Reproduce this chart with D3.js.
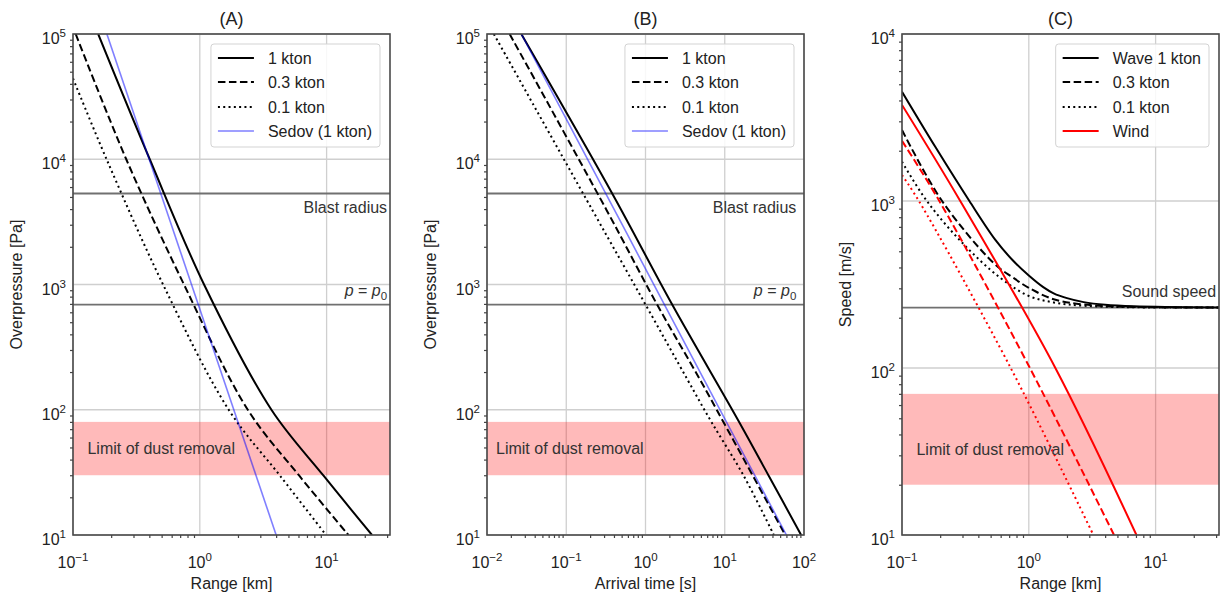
<!DOCTYPE html>
<html>
<head>
<meta charset="utf-8">
<script src="https://cdn.jsdelivr.net/npm/d3@7"></script>
<style>
  body { margin: 0; background: #fff; }
  svg { font-family: 'Liberation Sans', Arial, sans-serif; }
</style>
</head>
<body>
<svg id="chart" width="1221" height="597"></svg>
<script>
// ---- data ----
const titles = ['(A)', '(B)', '(C)']
const xLabels = ['Range [km]', 'Arrival time [s]', 'Range [km]']
const yLabels = ['Overpressure [Pa]', 'Overpressure [Pa]', 'Speed [m/s]']

const xTickExpA = [-1, 0, 1]
const xTickExpB = [-2, -1, 0, 1, 2]
const xTickExpC = [-1, 0, 1]
const yTickExpA = [1, 2, 3, 4, 5]
const yTickExpB = [1, 2, 3, 4, 5]
const yTickExpC = [1, 2, 3, 4]

const legendA = ['1 kton', '0.3 kton', '0.1 kton', 'Sedov (1 kton)']
const legendB = ['1 kton', '0.3 kton', '0.1 kton', 'Sedov (1 kton)']
const legendC = ['Wave 1 kton', '0.3 kton', '0.1 kton', 'Wind']

// reference levels
const blastRadiusP = 5330   // Pa
const ambientP = 692        // Pa (p = p0)
const soundSpeed = 230      // m/s
const dustBandP = [30, 80]  // Pa
const dustBandV = [20, 70]  // m/s

// (A) overpressure vs range
const rangeA1 = [0.158, 0.403, 1.08, 3.67, 9.5, 22.8]
const pressA1 = [1e5, 1e4, 1e3, 100, 29.6, 10]
const rangeA03 = [0.105, 0.263, 0.75, 2.39, 6.11, 14.86]
const pressA03 = [1e5, 1e4, 1e3, 100, 29.6, 10]
const rangeA01 = [0.1, 0.184, 0.513, 1.69, 4.31, 9.9]
const pressA01 = [44200, 1e4, 1e3, 100, 29.6, 10]
const rangeASedov = [0.185, 4.0]
const pressASedov = [1e5, 10]

// (B) overpressure vs arrival time
const timeB1 = [0.0271, 0.38, 2.17, 15, 36, 92]
const pressB1 = [1e5, 5330, 692, 81, 29.6, 10]
const timeB03 = [0.0193, 0.322, 1.4, 4.9, 9.5, 58]
const pressB03 = [1e5, 3940, 692, 173, 81, 10]
const timeB01 = [0.0122, 0.213, 1.0, 3.4, 6.7, 17.4, 41.6]
const pressB01 = [1e5, 3940, 692, 173, 81, 29.6, 10]
const timeBSedov = [0.0271, 0.405, 5.5, 60]
const pressBSedov = [1e5, 3940, 173, 10]

// (C) wave and wind speed vs range
const rangeCWave1 = [0.1, 0.183, 0.34, 0.545, 0.75, 1.0, 1.3, 1.57, 2.0, 2.71, 4.0, 6.73, 31.6]
const speedCWave1 = [4510, 2110, 1000, 585, 440, 358, 305, 280, 262, 248, 239, 234, 230]
const rangeCWave03 = [0.1, 0.207, 0.53, 0.75, 1.0, 1.57, 2.71, 6.7, 31.6]
const speedCWave03 = [2660, 1000, 424, 348, 302, 258, 240, 232, 230]
const rangeCWave01 = [0.1, 0.157, 0.3, 0.6, 1.0, 1.57, 2.71, 6.7, 31.6]
const speedCWave01 = [1718, 1000, 560, 345, 270, 247, 236, 231, 230]
const rangeCWind1 = [0.1, 0.288, 1.62, 7.06]
const speedCWind1 = [3760, 1000, 100, 10]
const rangeCWind03 = [0.1, 0.197, 1.02, 4.7]
const speedCWind03 = [2290, 1000, 100, 10]
const rangeCWind01 = [0.1, 0.136, 0.72, 3.23]
const speedCWind01 = [1430, 1000, 100, 10]

// ---- styles ----
const solid = { color: '#000', dash: null, width: 2 }
const dashed = { color: '#000', dash: '7.5,3.5', width: 2 }
const dotted = { color: '#000', dash: '2,3.3', width: 2 }
const sedov = { color: '#0000ff', dash: null, width: 1.6, opacity: 0.5 }
const redSolid = { color: '#ff0000', dash: null, width: 2 }
const redDashed = { color: '#ff0000', dash: '7.5,3.5', width: 2 }
const redDotted = { color: '#ff0000', dash: '2,3.3', width: 2 }

const plotTop = 34
const plotBottom = 535
const plotW = 317
const fontSize = 16

const svg = d3.select('#chart')

const panels = [
  {
    left: 73, title: titles[0], xLabel: xLabels[0], yLabel: yLabels[0],
    xDomain: [0.1, Math.pow(10, 1.5)], yDomain: [10, 1e5],
    xExp: xTickExpA, yExp: yTickExpA,
    band: dustBandP, refs: [blastRadiusP, ambientP],
    labelX: 30, dustX: 0.13, dustY: 44,
    series: [
      { xs: rangeA1, ys: pressA1, style: solid },
      { xs: rangeA03, ys: pressA03, style: dashed },
      { xs: rangeA01, ys: pressA01, style: dotted },
      { xs: rangeASedov, ys: pressASedov, style: sedov }
    ],
    legend: legendA, legendStyles: [solid, dashed, dotted, sedov]
  },
  {
    left: 487, title: titles[1], xLabel: xLabels[1], yLabel: yLabels[1],
    xDomain: [0.01, 100], yDomain: [10, 1e5],
    xExp: xTickExpB, yExp: yTickExpB,
    band: dustBandP, refs: [blastRadiusP, ambientP],
    labelX: 80, dustX: 0.013, dustY: 44,
    series: [
      { xs: timeB1, ys: pressB1, style: solid },
      { xs: timeB03, ys: pressB03, style: dashed },
      { xs: timeB01, ys: pressB01, style: dotted },
      { xs: timeBSedov, ys: pressBSedov, style: sedov }
    ],
    legend: legendB, legendStyles: [solid, dashed, dotted, sedov]
  },
  {
    left: 902, title: titles[2], xLabel: xLabels[2], yLabel: yLabels[2],
    xDomain: [0.1, Math.pow(10, 1.5)], yDomain: [10, 1e4],
    xExp: xTickExpC, yExp: yTickExpC,
    band: dustBandV, refs: [soundSpeed],
    labelX: 30, dustX: 0.13, dustY: 30,
    series: [
      { xs: rangeCWave1, ys: speedCWave1, style: solid },
      { xs: rangeCWave03, ys: speedCWave03, style: dashed },
      { xs: rangeCWave01, ys: speedCWave01, style: dotted },
      { xs: rangeCWind1, ys: speedCWind1, style: redSolid },
      { xs: rangeCWind03, ys: speedCWind03, style: redDashed },
      { xs: rangeCWind01, ys: speedCWind01, style: redDotted }
    ],
    legend: legendC, legendStyles: [solid, dashed, dotted, redSolid]
  }
]

function minorTicks (domain) {
  const out = []
  const lo = Math.floor(Math.log10(domain[0]))
  const hi = Math.ceil(Math.log10(domain[1]))
  for (let e = lo; e < hi; e++) {
    for (let k = 2; k <= 9; k++) {
      const v = k * Math.pow(10, e)
      if (v > domain[0] && v < domain[1]) out.push(v)
    }
  }
  return out
}

function powerLabel (sel, exp) {
  sel.append('tspan').text('10')
  sel.append('tspan')
    .attr('dy', -7)
    .attr('font-size', 11.5)
    .text(exp < 0 ? '\u2212' + Math.abs(exp) : exp)
}

function applyStyle (sel, s) {
  sel.attr('stroke', s.color)
    .attr('stroke-width', s.width)
    .attr('stroke-dasharray', s.dash)
    .attr('stroke-opacity', s.opacity || 1)
    .attr('fill', 'none')
}

function drawPanel (p, i) {
  const g = svg.append('g')
  const right = p.left + plotW
  const x = d3.scaleLog().domain(p.xDomain).range([p.left, right])
  const y = d3.scaleLog().domain(p.yDomain).range([plotBottom, plotTop])
  const xMaj = p.xExp.map(e => Math.pow(10, e))
  const yMaj = p.yExp.map(e => Math.pow(10, e))

  g.append('clipPath').attr('id', 'clip' + i)
    .append('rect')
    .attr('x', p.left).attr('y', plotTop)
    .attr('width', plotW).attr('height', plotBottom - plotTop)

  // grid
  g.selectAll('.gx').data(xMaj).enter().append('line')
    .attr('x1', d => x(d)).attr('x2', d => x(d))
    .attr('y1', plotTop).attr('y2', plotBottom)
    .attr('stroke', '#cfcfcf').attr('stroke-width', 1.3)
  g.selectAll('.gy').data(yMaj).enter().append('line')
    .attr('x1', p.left).attr('x2', right)
    .attr('y1', d => y(d)).attr('y2', d => y(d))
    .attr('stroke', '#cfcfcf').attr('stroke-width', 1.3)

  // dust removal band
  g.append('rect')
    .attr('x', p.left).attr('width', plotW)
    .attr('y', y(p.band[1])).attr('height', y(p.band[0]) - y(p.band[1]))
    .attr('fill', '#ff0000').attr('fill-opacity', 0.27)

  // reference levels
  g.selectAll('.ref').data(p.refs).enter().append('line')
    .attr('x1', p.left).attr('x2', right)
    .attr('y1', d => y(d)).attr('y2', d => y(d))
    .attr('stroke', '#707070').attr('stroke-width', 1.8)

  // curves
  const line = d3.line()
    .x(d => x(d[0])).y(d => y(d[1]))
    .curve(d3.curveCatmullRom.alpha(0.5))
  const cg = g.append('g').attr('clip-path', 'url(#clip' + i + ')')
  p.series.forEach(s => {
    cg.append('path').datum(d3.zip(s.xs, s.ys))
      .attr('d', line)
      .call(applyStyle, s.style)
  })

  // frame
  g.append('rect')
    .attr('x', p.left).attr('y', plotTop)
    .attr('width', plotW).attr('height', plotBottom - plotTop)
    .attr('fill', 'none').attr('stroke', '#4a4a4a').attr('stroke-width', 1.6)

  // ticks
  const xAxis = g.append('g').attr('transform', 'translate(0,' + plotBottom + ')')
  xAxis.call(d3.axisBottom(x).tickValues(xMaj).tickSize(5).tickSizeOuter(0).tickFormat(''))
  xAxis.call(d3.axisBottom(x).tickValues(minorTicks(p.xDomain)).tickSize(3).tickSizeOuter(0).tickFormat(''))
  const yAxis = g.append('g').attr('transform', 'translate(' + p.left + ',0)')
  yAxis.call(d3.axisLeft(y).tickValues(yMaj).tickSize(5).tickSizeOuter(0).tickFormat(''))
  yAxis.call(d3.axisLeft(y).tickValues(minorTicks(p.yDomain)).tickSize(3).tickSizeOuter(0).tickFormat(''))
  g.selectAll('.domain').remove()
  g.selectAll('.tick line').attr('stroke', '#444').attr('stroke-width', 1.2)

  // tick labels
  p.xExp.forEach(e => {
    g.append('text')
      .attr('x', x(Math.pow(10, e))).attr('y', plotBottom + 33)
      .attr('text-anchor', 'middle').attr('font-size', fontSize).attr('fill', '#222')
      .call(powerLabel, e)
  })
  p.yExp.forEach(e => {
    g.append('text')
      .attr('x', p.left - 7).attr('y', y(Math.pow(10, e)) + 10)
      .attr('text-anchor', 'end').attr('font-size', fontSize).attr('fill', '#222')
      .call(powerLabel, e)
  })

  // axis labels and title
  g.append('text')
    .attr('x', p.left + plotW / 2).attr('y', 589)
    .attr('text-anchor', 'middle').attr('font-size', fontSize).attr('fill', '#222')
    .text(p.xLabel)
  g.append('text')
    .attr('transform', 'translate(' + (p.left - 51) + ',' + ((plotTop + plotBottom) / 2) + ') rotate(-90)')
    .attr('text-anchor', 'middle').attr('font-size', fontSize).attr('fill', '#222')
    .text(p.yLabel)
  g.append('text')
    .attr('x', p.left + plotW / 2).attr('y', 25)
    .attr('text-anchor', 'middle').attr('font-size', 18).attr('fill', '#222')
    .text(p.title)

  // annotations
  g.append('text')
    .attr('x', x(p.dustX)).attr('y', y(p.dustY))
    .attr('font-size', fontSize).attr('fill', '#333')
    .text('Limit of dust removal')
  if (p.refs.length === 2) {
    g.append('text')
      .attr('x', x(p.labelX)).attr('y', y(p.refs[0]) + 20)
      .attr('text-anchor', 'end').attr('font-size', fontSize).attr('fill', '#333')
      .text('Blast radius')
    const t = g.append('text')
      .attr('x', x(p.labelX)).attr('y', y(p.refs[1]) - 9)
      .attr('text-anchor', 'end').attr('font-size', fontSize).attr('fill', '#333')
    t.append('tspan').attr('font-style', 'italic').text('p')
    t.append('tspan').text(' = ')
    t.append('tspan').attr('font-style', 'italic').text('p')
    t.append('tspan').attr('font-size', 11.5).attr('dy', 4).text('0')
  } else {
    g.append('text')
      .attr('x', x(p.labelX)).attr('y', y(p.refs[0]) - 11)
      .attr('text-anchor', 'end').attr('font-size', fontSize).attr('fill', '#333')
      .text('Sound speed')
  }

  // legend
  const lg = g.append('g')
  const box = lg.append('rect')
  const rowY = [58, 82, 107, 131]
  let maxLen = 0
  p.legend.forEach((label, k) => {
    const s = p.legendStyles[k]
    lg.append('line')
      .attr('y1', rowY[k]).attr('y2', rowY[k])
      .attr('class', 'sample')
      .call(applyStyle, s)
    const t = lg.append('text')
      .attr('y', rowY[k] + 6)
      .attr('font-size', fontSize).attr('fill', '#222')
      .text(label)
    maxLen = Math.max(maxLen, t.node().getComputedTextLength())
  })
  const boxW = 57 + maxLen + 8
  const boxL = right - 10 - boxW
  box.attr('x', boxL).attr('y', 44).attr('width', boxW).attr('height', 103)
    .attr('rx', 3)
    .attr('fill', '#fff').attr('fill-opacity', 0.85)
    .attr('stroke', '#d3d3d3').attr('stroke-width', 1)
  lg.selectAll('line.sample').attr('x1', boxL + 7).attr('x2', boxL + 43)
  lg.selectAll('text').attr('x', boxL + 57)
}

panels.forEach(drawPanel)
</script>
</body>
</html>
